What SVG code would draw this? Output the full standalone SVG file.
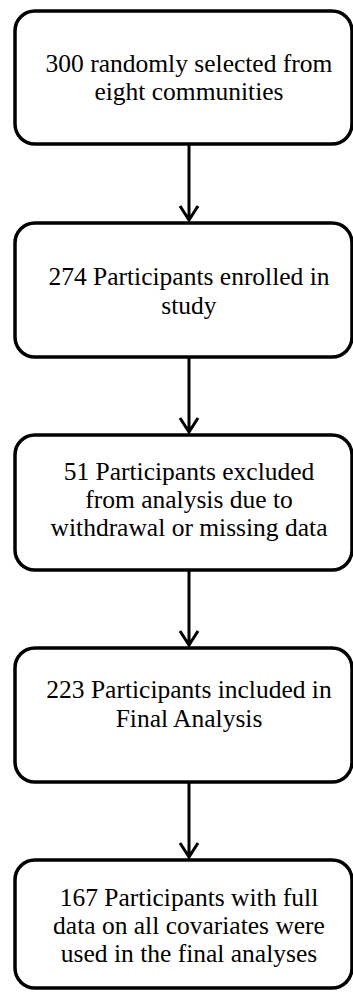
<svg xmlns="http://www.w3.org/2000/svg" width="353" height="992" viewBox="0 0 353 992">
<style>
.box{fill:#fff;stroke:#000;stroke-width:3.5}
.t{font-family:"Liberation Serif","Times New Roman",serif;font-size:25.5px;fill:#000;text-anchor:middle}
.c{stroke:#000;stroke-width:3;fill:none}
</style>
<rect width="353" height="992" fill="#fff"/>
<g id="n1"><rect class="box" x="15" y="11" width="337" height="133" rx="20"/>
<text class="t" x="189" y="72">300 randomly selected from</text>
<text class="t" x="189" y="100">eight communities</text></g>
<g id="n2"><rect class="box" x="15" y="223" width="337" height="134" rx="20"/>
<text class="t" x="189" y="285">274 Participants enrolled in</text>
<text class="t" x="189" y="314">study</text></g>
<g id="n3"><rect class="box" x="15" y="435" width="337" height="135" rx="20"/>
<text class="t" x="189" y="480">51 Participants excluded</text>
<text class="t" x="189" y="508">from analysis due to</text>
<text class="t" x="189" y="536">withdrawal or missing data</text></g>
<g id="n4"><rect class="box" x="15" y="648" width="337" height="134" rx="20"/>
<text class="t" x="189" y="698">223 Participants included in</text>
<text class="t" x="189" y="727">Final Analysis</text></g>
<g id="n5"><rect class="box" x="15" y="860" width="337" height="128" rx="20"/>
<text class="t" x="189" y="906">167 Participants with full</text>
<text class="t" x="189" y="934">data on all covariates were</text>
<text class="t" x="189" y="962">used in the final analyses</text></g>
<g id="connectors">
<path class="c" d="M189 145V220M180 206L189 220L198 206"/>
<path class="c" d="M189 357V432M180 418L189 432L198 418"/>
<path class="c" d="M189 570V645M180 631L189 645L198 631"/>
<path class="c" d="M189 782V857M180 843L189 857L198 843"/>
</g>
</svg>
